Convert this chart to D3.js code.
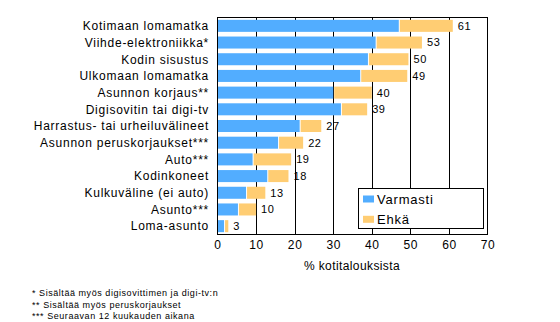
<!DOCTYPE html>
<html><head><meta charset="utf-8">
<script src="https://cdn.jsdelivr.net/npm/d3@7"></script>
<style>body{margin:0;background:#fff}svg{display:block}text{font-family:"Liberation Sans",Arial,sans-serif;fill:#000}</style>
</head><body><svg id="c" width="560" height="322"></svg>
<script>
const categories = ["Kotimaan lomamatka","Viihde-elektroniikka*","Kodin sisustus","Ulkomaan lomamatka","Asunnon korjaus**","Digisovitin tai digi-tv","Harrastus- tai urheiluvälineet","Asunnon peruskorjaukset***","Auto***","Kodinkoneet","Kulkuväline (ei auto)","Asunto***","Loma-asunto"];
const varmasti = [47,41,39,37,30,32,21.3,15.7,9.1,12.9,7.4,5.3,1.7];
const ehka     = [14,12,10.5,12.2,10,6.8,5.6,6.5,10,5.5,5,4.7,1.1];
const totalLabels = ["61","53","50","49","40","39","27","22","19","18","13","10","3"];
const xTicks = [0,10,20,30,40,50,60,70];
const seriesNames = ["Varmasti","Ehkä"];
const footnotes = ["* Sisältää myös digisovittimen ja digi-tv:n","** Sisältää myös peruskorjaukset","*** Seuraavan 12 kuukauden aikana"];
const colors = ["#52adff","#ffcd73"];

const svg = d3.select("#c");
const L=217.5, R=487.5, T=17.5, B=234.5;
const x = d3.scaleLinear().domain([0,70]).range([L,R]);
const y = d3.scaleBand().domain(categories).range([T,B]).paddingInner(0.28).paddingOuter(0.14);

svg.append("g").selectAll("line").data(xTicks.slice(1,-1)).join("line")
  .attr("x1",d=>Math.round(x(d))+0.5).attr("x2",d=>Math.round(x(d))+0.5).attr("y1",T).attr("y2",B)
  .attr("stroke","#000").attr("stroke-width",1);

const g = svg.append("g");
categories.forEach((c,i)=>{
  g.append("rect").attr("x",x(0)).attr("y",y(c)).attr("width",x(varmasti[i])-x(0)).attr("height",y.bandwidth()).attr("fill",colors[0]);
  g.append("rect").attr("x",x(varmasti[i])+1).attr("y",y(c)).attr("width",Math.max(0,x(varmasti[i]+ehka[i])-x(varmasti[i])-1)).attr("height",y.bandwidth()).attr("fill",colors[1]);
  g.append("text").attr("x",x(varmasti[i]+ehka[i])+5).attr("y",y(c)+y.bandwidth()/2).attr("dy","0.36em")
   .attr("font-size","11px").attr("letter-spacing","0.6px").text(totalLabels[i]);
});

svg.append("rect").attr("x",L).attr("y",T).attr("width",R-L).attr("height",B-T).attr("fill","none").attr("stroke","#000");

svg.append("g").selectAll("text").data(categories).join("text")
  .attr("x",209).attr("y",d=>y(d)+y.bandwidth()/2).attr("dy","0.36em").attr("text-anchor","end")
  .attr("font-size","12px").attr("letter-spacing","0.75px").text(d=>d);

const xa = svg.append("g").attr("transform",`translate(0,${B})`).call(d3.axisBottom(x).tickValues(xTicks).tickSize(0).tickPadding(6));
xa.select(".domain").remove();
xa.selectAll("text").attr("font-size","12px").attr("font-family","Liberation Sans, Arial, sans-serif").attr("letter-spacing","0.6px").attr("fill","#000");

svg.append("text").attr("x",352).attr("y",270).attr("text-anchor","middle").attr("font-size","12px").attr("letter-spacing","0.4px").text("% kotitalouksista");

const lg = svg.append("g");
lg.append("rect").attr("x",358.5).attr("y",188.5).attr("width",125).attr("height",40).attr("fill","#fff").attr("stroke","#000");
seriesNames.forEach((s,i)=>{
  lg.append("rect").attr("x",363).attr("y",195.5+i*20.3).attr("width",11).attr("height",7).attr("fill",colors[i]);
  lg.append("text").attr("x",377).attr("y",199+i*20.3).attr("dy","0.36em").attr("font-size","13px").attr("letter-spacing","0.8px").text(s);
});

svg.append("g").selectAll("text").data(footnotes).join("text")
  .attr("x",32).attr("y",(d,i)=>293+i*11.6).attr("dy","0.36em").attr("font-size","9px").attr("letter-spacing","0.55px").text(d=>d);
</script></body></html>
